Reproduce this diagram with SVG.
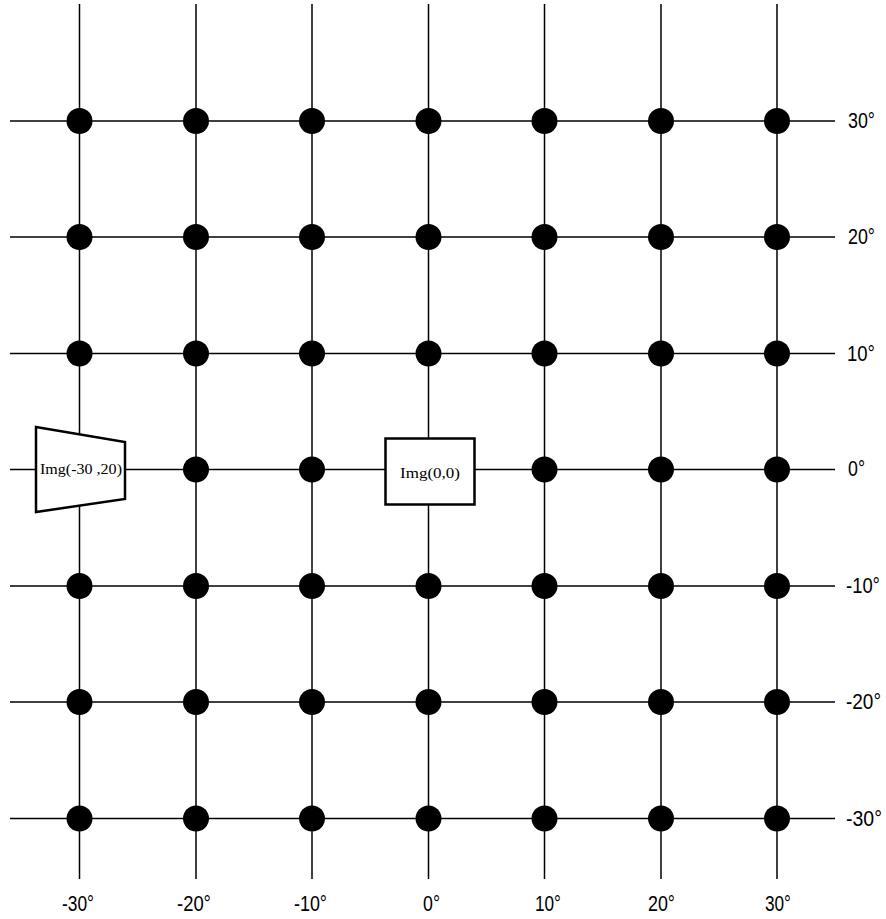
<svg xmlns="http://www.w3.org/2000/svg" width="886" height="919" viewBox="0 0 886 919">
<style>
.ln{stroke:#000;stroke-width:1.5;fill:none}
.dot{fill:#000}
.lab{font-family:"Liberation Sans",Arial,sans-serif;font-size:22px;fill:#000}
.node{fill:#fff;stroke:#000;stroke-width:2.5}
.nt{font-family:"Liberation Serif","Times New Roman",serif;font-size:15px;fill:#000}
</style>
<defs>
<circle id="d" r="13" class="dot"/>
</defs>
<g id="connectors">
<line class="ln" x1="79.5" y1="4" x2="79.5" y2="879"/>
<line class="ln" x1="196" y1="4" x2="196" y2="879"/>
<line class="ln" x1="312" y1="4" x2="312" y2="879"/>
<line class="ln" x1="428.5" y1="4" x2="428.5" y2="879"/>
<line class="ln" x1="544.5" y1="4" x2="544.5" y2="879"/>
<line class="ln" x1="661" y1="4" x2="661" y2="879"/>
<line class="ln" x1="777" y1="4" x2="777" y2="879"/>
<line class="ln" x1="10" y1="121" x2="835" y2="121"/>
<line class="ln" x1="10" y1="237" x2="835" y2="237"/>
<line class="ln" x1="10" y1="353.5" x2="835" y2="353.5"/>
<line class="ln" x1="10" y1="469.5" x2="835" y2="469.5"/>
<line class="ln" x1="10" y1="586" x2="835" y2="586"/>
<line class="ln" x1="10" y1="702" x2="835" y2="702"/>
<line class="ln" x1="10" y1="818.5" x2="835" y2="818.5"/>
</g>
<g id="dots">
<use href="#d" x="79.5" y="121"/><use href="#d" x="196" y="121"/><use href="#d" x="312" y="121"/><use href="#d" x="428.5" y="121"/><use href="#d" x="544.5" y="121"/><use href="#d" x="661" y="121"/><use href="#d" x="777" y="121"/>
<use href="#d" x="79.5" y="237"/><use href="#d" x="196" y="237"/><use href="#d" x="312" y="237"/><use href="#d" x="428.5" y="237"/><use href="#d" x="544.5" y="237"/><use href="#d" x="661" y="237"/><use href="#d" x="777" y="237"/>
<use href="#d" x="79.5" y="353.5"/><use href="#d" x="196" y="353.5"/><use href="#d" x="312" y="353.5"/><use href="#d" x="428.5" y="353.5"/><use href="#d" x="544.5" y="353.5"/><use href="#d" x="661" y="353.5"/><use href="#d" x="777" y="353.5"/>
<use href="#d" x="196" y="469.5"/><use href="#d" x="312" y="469.5"/><use href="#d" x="544.5" y="469.5"/><use href="#d" x="661" y="469.5"/><use href="#d" x="777" y="469.5"/>
<use href="#d" x="79.5" y="586"/><use href="#d" x="196" y="586"/><use href="#d" x="312" y="586"/><use href="#d" x="428.5" y="586"/><use href="#d" x="544.5" y="586"/><use href="#d" x="661" y="586"/><use href="#d" x="777" y="586"/>
<use href="#d" x="79.5" y="702"/><use href="#d" x="196" y="702"/><use href="#d" x="312" y="702"/><use href="#d" x="428.5" y="702"/><use href="#d" x="544.5" y="702"/><use href="#d" x="661" y="702"/><use href="#d" x="777" y="702"/>
<use href="#d" x="79.5" y="818.5"/><use href="#d" x="196" y="818.5"/><use href="#d" x="312" y="818.5"/><use href="#d" x="428.5" y="818.5"/><use href="#d" x="544.5" y="818.5"/><use href="#d" x="661" y="818.5"/><use href="#d" x="777" y="818.5"/>
</g>
<g id="img-30-20">
<polygon class="node" points="36,427 125,442 125,499 36,512"/>
<text class="nt" x="40" y="474" textLength="82" lengthAdjust="spacingAndGlyphs">Img(-30 ,20)</text>
</g>
<g id="img-0-0">
<rect class="node" x="385.5" y="438.5" width="89" height="66"/>
<text class="nt" x="400" y="478" textLength="60" lengthAdjust="spacingAndGlyphs">Img(0,0)</text>
</g>
<g id="right-labels">
<text class="lab" x="848" y="128" textLength="27" lengthAdjust="spacingAndGlyphs">30°</text>
<text class="lab" x="848" y="244" textLength="27" lengthAdjust="spacingAndGlyphs">20°</text>
<text class="lab" x="847" y="360.5" textLength="28" lengthAdjust="spacingAndGlyphs">10°</text>
<text class="lab" x="848" y="476" textLength="17" lengthAdjust="spacingAndGlyphs">0°</text>
<text class="lab" x="846" y="593" textLength="34" lengthAdjust="spacingAndGlyphs">-10°</text>
<text class="lab" x="846" y="709" textLength="35" lengthAdjust="spacingAndGlyphs">-20°</text>
<text class="lab" x="846" y="825.5" textLength="36" lengthAdjust="spacingAndGlyphs">-30°</text>
</g>
<g id="bottom-labels">
<text class="lab" x="62" y="911" textLength="32" lengthAdjust="spacingAndGlyphs">-30°</text>
<text class="lab" x="177" y="911" textLength="34" lengthAdjust="spacingAndGlyphs">-20°</text>
<text class="lab" x="294" y="911" textLength="33" lengthAdjust="spacingAndGlyphs">-10°</text>
<text class="lab" x="423" y="911" textLength="17" lengthAdjust="spacingAndGlyphs">0°</text>
<text class="lab" x="535" y="911" textLength="26" lengthAdjust="spacingAndGlyphs">10°</text>
<text class="lab" x="648" y="911" textLength="27" lengthAdjust="spacingAndGlyphs">20°</text>
<text class="lab" x="765" y="911" textLength="26" lengthAdjust="spacingAndGlyphs">30°</text>
</g>
</svg>
